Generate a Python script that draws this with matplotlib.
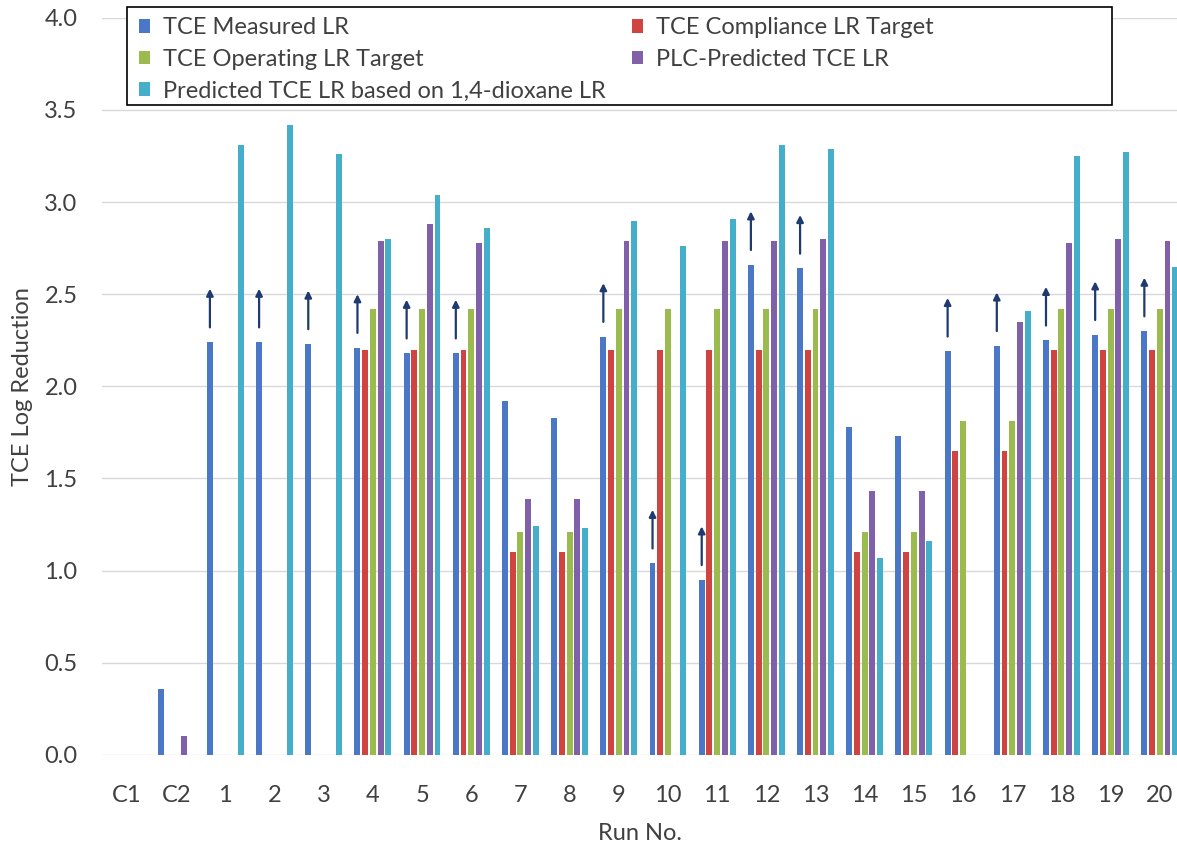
import matplotlib
matplotlib.use("Agg")
import matplotlib.pyplot as plt
from matplotlib.patches import Rectangle
import numpy as np

plt.rcParams["font.family"] = ["Lato", "DejaVu Sans"]

runs = ["C1", "C2", "1", "2", "3", "4", "5", "6", "7", "8", "9", "10",
        "11", "12", "13", "14", "15", "16", "17", "18", "19", "20"]

nan = np.nan
measured = [nan, 0.36, 2.24, 2.24, 2.23, 2.21, 2.18, 2.18, 1.92, 1.83, 2.27, 1.04,
            0.95, 2.66, 2.64, 1.78, 1.73, 2.19, 2.22, 2.25, 2.28, 2.30]
compliance = [nan, nan, nan, nan, nan, 2.20, 2.20, 2.20, 1.10, 1.10, 2.20, 2.20,
              2.20, 2.20, 2.20, 1.10, 1.10, 1.65, 1.65, 2.20, 2.20, 2.20]
operating = [nan, nan, nan, nan, nan, 2.42, 2.42, 2.42, 1.21, 1.21, 2.42, 2.42,
             2.42, 2.42, 2.42, 1.21, 1.21, 1.81, 1.81, 2.42, 2.42, 2.42]
plc_pred = [nan, 0.10, nan, nan, nan, 2.79, 2.88, 2.78, 1.39, 1.39, 2.79, nan,
            2.79, 2.79, 2.80, 1.43, 1.43, nan, 2.35, 2.78, 2.80, 2.79]
dioxane_pred = [nan, nan, 3.31, 3.42, 3.26, 2.80, 3.04, 2.86, 1.24, 1.23, 2.90, 2.76,
                2.91, 3.31, 3.29, 1.07, 1.16, nan, 2.41, 3.25, 3.27, 2.65]
# measured value is a lower bound (non-detect in effluent)
lower_bound = [False, False, True, True, True, True, True, True, False, False, True, True,
               True, True, True, False, False, True, True, True, True, True]

series = [
    ("TCE Measured LR", measured, "#4A78C6"),
    ("TCE Compliance LR Target", compliance, "#CF4440"),
    ("TCE Operating LR Target", operating, "#9BBB4F"),
    ("PLC-Predicted TCE LR", plc_pred, "#8060A8"),
    ("Predicted TCE LR based on 1,4-dioxane LR", dioxane_pred, "#45AECB"),
]

fig = plt.figure(figsize=(11.77, 8.51), dpi=100)
ax = fig.add_axes([0.087, 0.113, 0.913, 0.866])

x = np.arange(len(runs))
slot = 0.157
width = 0.12
handles = []
for i, (label, vals, color) in enumerate(series):
    h = ax.bar(x + (i - 2) * slot, vals, width=width, color=color, label=label, zorder=2)
    handles.append(h)

# arrows marking measured LR as "greater than"
for xi, val, flag in zip(x, measured, lower_bound):
    if flag:
        bx = xi - 2 * slot
        ax.annotate("", xy=(bx, val + 0.29), xytext=(bx, val + 0.08),
                    arrowprops=dict(arrowstyle="-|>", color="#1F3A6E", lw=1.6,
                                    mutation_scale=10, shrinkA=0, shrinkB=0),
                    zorder=3)

ax.set_xlim(-0.5, 21.35)
ax.set_ylim(0, 4.0)
ax.set_yticks(np.arange(0, 4.01, 0.5))
ax.set_yticklabels([f"{v:.1f}" for v in np.arange(0, 4.01, 0.5)])
ax.set_xticks(x)
ax.set_xticklabels(runs)
ax.tick_params(axis="both", length=0, labelsize=17, colors="#404040")
ax.tick_params(axis="x", pad=22)
ax.tick_params(axis="y", pad=18)
ax.grid(axis="y", color="#D9D9D9", lw=1.0, zorder=0)
for s in ax.spines.values():
    s.set_visible(False)

ax.set_ylabel("TCE Log Reduction", fontsize=17, color="#404040", labelpad=8)
ax.set_xlabel("Run No.", fontsize=17, color="#404040", labelpad=12)

# legend box is wider than its entries, so draw the frame separately
box = Rectangle((127 / 1177, 1 - 105 / 851), (1112 - 127) / 1177, (105 - 7) / 851,
                transform=fig.transFigure, facecolor="white", edgecolor="black",
                lw=1.2, zorder=4)
ax.add_patch(box)
box.set_clip_on(False)

# legend fills column-wise, so order handles to read row-wise like the original
order = [0, 2, 4, 1, 3]
leg = ax.legend(handles=[handles[k] for k in order], ncol=2, loc="upper left",
                bbox_to_anchor=(0.026, 1.012),
                fontsize=17, frameon=False,
                handlelength=0.47, handleheight=0.5, handletextpad=0.55,
                columnspacing=1.14, labelspacing=0.45, borderpad=0.35,
                borderaxespad=0.0)
leg.set_zorder(5)
for t in leg.get_texts():
    t.set_color("#404040")

fig.savefig("out.png", dpi=100)
